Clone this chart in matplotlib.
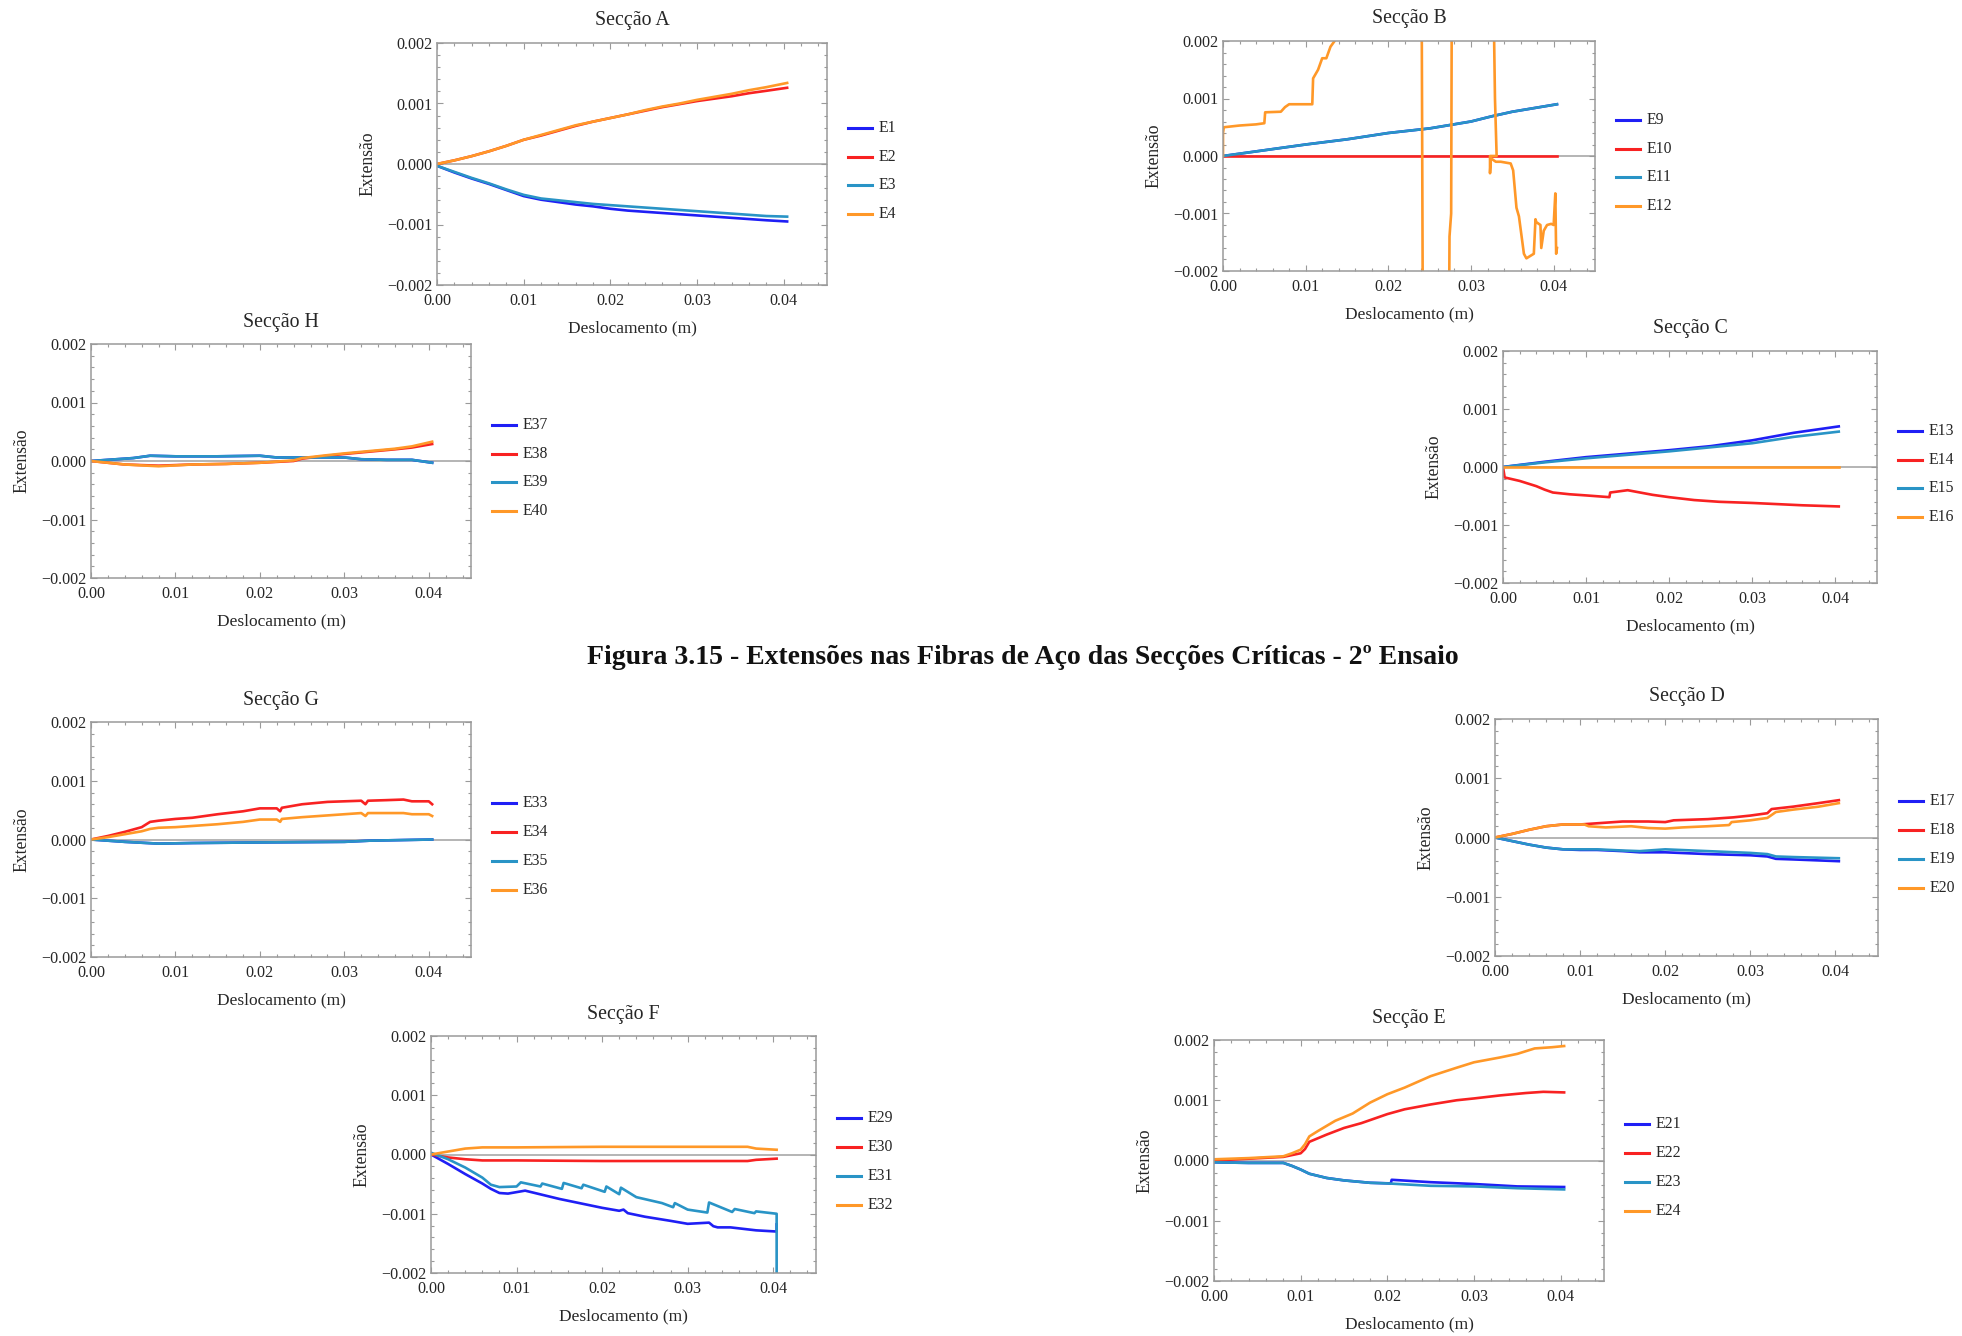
import matplotlib
matplotlib.use('Agg')
import matplotlib.pyplot as plt
from matplotlib.lines import Line2D
from matplotlib.ticker import MultipleLocator, FixedLocator, FixedFormatter

plt.rcParams['font.family'] = ['Liberation Serif', 'DejaVu Serif']

# ---------------- data ----------------
x_ticks = [0.0, 0.01, 0.02, 0.03, 0.04]
x_tick_labels = ['0.00', '0.01', '0.02', '0.03', '0.04']
y_ticks = [-0.002, -0.001, 0.0, 0.001, 0.002]
y_tick_labels = ['\u22120.002', '\u22120.001', '0.000', '0.001', '0.002']

# Secção A
xA = [0, 0.002, 0.004, 0.006, 0.008, 0.010, 0.012, 0.014, 0.016, 0.018, 0.020,
      0.022, 0.024, 0.026, 0.028, 0.030, 0.032, 0.034, 0.036, 0.038, 0.0404]
E1 = [-0.00003, -0.00014, -0.00024, -0.00033, -0.00043, -0.00053, -0.00059, -0.00063, -0.00067, -0.0007, -0.00074,
      -0.00077, -0.00079, -0.00081, -0.00083, -0.00085, -0.00087, -0.00089, -0.00091, -0.00093, -0.00095]
E2 = [0, 0.00006, 0.00013, 0.00021, 0.0003, 0.0004, 0.00047, 0.00055, 0.00063, 0.0007, 0.00076,
      0.00082, 0.00088, 0.00094, 0.00099, 0.00104, 0.00108, 0.00112, 0.00117, 0.00121, 0.00126]
E3 = [-0.00003, -0.00013, -0.00023, -0.00032, -0.00042, -0.00051, -0.00057, -0.0006, -0.00063, -0.00066, -0.00068,
      -0.0007, -0.00072, -0.00074, -0.00076, -0.00078, -0.0008, -0.00082, -0.00084, -0.00086, -0.00087]
E4 = [0, 0.00006, 0.00013, 0.00021, 0.0003, 0.0004, 0.00048, 0.00056, 0.00064, 0.0007, 0.00076,
      0.00082, 0.00089, 0.00095, 0.001, 0.00106, 0.00111, 0.00116, 0.00122, 0.00127, 0.00134]

# Secção B
xB = [0, 0.005, 0.010, 0.015, 0.020, 0.025, 0.030, 0.0325, 0.035, 0.0404]
E9 = [0, 0.0001, 0.0002, 0.00029, 0.0004, 0.00048, 0.0006, 0.00069, 0.00077, 0.0009]
E11 = [0, 0.0001, 0.0002, 0.00029, 0.0004, 0.00048, 0.0006, 0.00069, 0.00077, 0.0009]
xB10 = [0, 0.0404]
E10 = [0, 0]
xB12 = [0, 0, 0.0001, 0.002, 0.004, 0.0050, 0.0051, 0.007, 0.0075, 0.008, 0.0108, 0.0109, 0.0115, 0.012,
        0.0125, 0.013, 0.0135, 0.016, 0.0240, 0.0242, 0.0244, 0.0273, 0.0274, 0.0276, 0.0277, 0.0300,
        0.0326, 0.0329, 0.0331, 0.0323, 0.0323, 0.0324, 0.0330, 0.0336, 0.0348, 0.0351, 0.0355, 0.0358,
        0.0364, 0.0367, 0.0376, 0.0378, 0.0379, 0.0384, 0.0385, 0.0388, 0.0392, 0.0397, 0.0400, 0.0402,
        0.0403, 0.0404]
E12 = [0, 0.0004, 0.0005, 0.00053, 0.00055, 0.00057, 0.00076, 0.00077, 0.00085, 0.0009, 0.0009, 0.00135,
       0.0015, 0.0017, 0.0017, 0.0019, 0.002, 0.003, 0.004, -0.004, -0.004, -0.004, -0.0014, -0.0010,
       0.004, 0.004, 0.004, 0.001, 0.0, 0.0, -0.0003, -0.00004, -0.0001, -0.0001, -0.00013, -0.00025,
       -0.0009, -0.00105, -0.0017, -0.00178, -0.0017, -0.0011, -0.00115, -0.0012, -0.0016, -0.0013,
       -0.0012, -0.00118, -0.0012, -0.00065, -0.0017, -0.0016]

# Secção C
xC = [0, 0.005, 0.010, 0.015, 0.020, 0.025, 0.030, 0.035, 0.0404]
E13 = [0, 0.00009, 0.00017, 0.00023, 0.00029, 0.00036, 0.00046, 0.00059, 0.0007]
E15 = [0, 0.00008, 0.00015, 0.00021, 0.00027, 0.00034, 0.00041, 0.00052, 0.00061]
xC14 = [0, 0.0002, 0.002, 0.004, 0.005, 0.006, 0.008, 0.010, 0.0128, 0.0129, 0.015, 0.018, 0.020,
        0.023, 0.026, 0.030, 0.033, 0.036, 0.0404]
E14 = [0, -0.00018, -0.00024, -0.00033, -0.00039, -0.00044, -0.00047, -0.00049, -0.00052, -0.00044,
       -0.0004, -0.00048, -0.00052, -0.00057, -0.0006, -0.00062, -0.00064, -0.00066, -0.00068]
xC16 = [0, 0.0404]
E16 = [0, 0]

# Secção D
xD18 = [0, 0.002, 0.004, 0.006, 0.008, 0.010, 0.012, 0.015, 0.018, 0.020, 0.021, 0.025, 0.028,
        0.030, 0.032, 0.0325, 0.035, 0.038, 0.0404]
E18 = [0, 0.00006, 0.00013, 0.00019, 0.00022, 0.00022, 0.00024, 0.00027, 0.00027, 0.00026, 0.00029,
       0.00031, 0.00034, 0.00037, 0.00041, 0.00048, 0.00052, 0.00058, 0.00063]
xD20 = [0, 0.002, 0.004, 0.006, 0.008, 0.0105, 0.011, 0.013, 0.016, 0.018, 0.020, 0.022, 0.025,
        0.0275, 0.0278, 0.030, 0.032, 0.033, 0.035, 0.038, 0.0404]
E20 = [0, 0.00006, 0.00013, 0.00019, 0.00022, 0.00022, 0.00019, 0.00017, 0.00019, 0.00016, 0.00015,
       0.00017, 0.00019, 0.00021, 0.00026, 0.00029, 0.00033, 0.00043, 0.00047, 0.00052, 0.00058]
xD17 = [0, 0.002, 0.004, 0.006, 0.008, 0.010, 0.012, 0.015, 0.017, 0.020, 0.025, 0.030, 0.032,
        0.033, 0.035, 0.0404]
E17 = [0, -0.00006, -0.00012, -0.00017, -0.0002, -0.00021, -0.00021, -0.00023, -0.00025, -0.00025,
       -0.00028, -0.0003, -0.00032, -0.00036, -0.00037, -0.0004]
E19 = [0, -0.00006, -0.00012, -0.00017, -0.0002, -0.0002, -0.0002, -0.00022, -0.00023, -0.0002,
       -0.00023, -0.00026, -0.00028, -0.00032, -0.00033, -0.00035]

# Secção E
xE24 = [0, 0.004, 0.008, 0.009, 0.010, 0.0105, 0.011, 0.012, 0.014, 0.016, 0.018, 0.020, 0.022,
        0.025, 0.028, 0.030, 0.033, 0.035, 0.037, 0.039, 0.0404]
E24 = [0.00002, 0.00004, 0.00007, 0.00012, 0.00018, 0.00027, 0.0004, 0.00049, 0.00066, 0.00078,
       0.00096, 0.0011, 0.00121, 0.0014, 0.00154, 0.00163, 0.00171, 0.00177, 0.00186, 0.00188, 0.0019]
xE22 = [0, 0.004, 0.008, 0.010, 0.0105, 0.011, 0.013, 0.015, 0.017, 0.020, 0.022, 0.025, 0.028,
        0.030, 0.033, 0.036, 0.038, 0.0404]
E22 = [0, 0.00003, 0.00006, 0.00012, 0.00019, 0.00031, 0.00043, 0.00054, 0.00062, 0.00077, 0.00085,
       0.00093, 0.001, 0.00103, 0.00108, 0.00112, 0.00114, 0.00113]
xE23 = [0, 0.004, 0.008, 0.009, 0.010, 0.011, 0.013, 0.015, 0.018, 0.020, 0.025, 0.030, 0.035, 0.0404]
E23 = [-0.00003, -0.00004, -0.00004, -0.00009, -0.00015, -0.00022, -0.00029, -0.00033, -0.00037,
       -0.00038, -0.00042, -0.00043, -0.00046, -0.00048]
xE21 = [0, 0.004, 0.008, 0.009, 0.010, 0.011, 0.013, 0.015, 0.018, 0.0204, 0.0205, 0.025, 0.030,
        0.035, 0.0404]
E21 = [-0.00003, -0.00004, -0.00004, -0.00009, -0.00015, -0.00022, -0.00029, -0.00033, -0.00037,
       -0.00038, -0.00032, -0.00036, -0.00039, -0.00043, -0.00044]

# Secção F
xF30 = [0, 0.002, 0.004, 0.006, 0.010, 0.020, 0.030, 0.037, 0.038, 0.0404]
E32 = [0, 0.00005, 0.0001, 0.00012, 0.00012, 0.00013, 0.00013, 0.00013, 0.0001, 0.00008]
E30 = [0, -0.00005, -0.00008, -0.0001, -0.0001, -0.00011, -0.00011, -0.00011, -0.00009, -0.00007]
xF29 = [0, 0.002, 0.004, 0.006, 0.007, 0.008, 0.009, 0.011, 0.013, 0.015, 0.018, 0.020, 0.022,
        0.0225, 0.023, 0.025, 0.028, 0.030, 0.0325, 0.033, 0.0335, 0.035, 0.038, 0.0404, 0.0404]
E29 = [0, -0.00016, -0.00033, -0.00049, -0.00058, -0.00065, -0.00066, -0.00061, -0.00068, -0.00075,
       -0.00084, -0.0009, -0.00095, -0.00093, -0.00099, -0.00105, -0.00112, -0.00117, -0.00115,
       -0.00121, -0.00123, -0.00123, -0.00128, -0.0013, -0.00118]
xF31 = [0, 0.002, 0.004, 0.006, 0.007, 0.008, 0.010, 0.0105, 0.0128, 0.0130, 0.0153, 0.0155, 0.0176,
        0.0178, 0.0203, 0.0205, 0.0220, 0.0222, 0.0240, 0.027, 0.0283, 0.0285, 0.0300, 0.0323, 0.0325,
        0.0352, 0.0355, 0.0378, 0.0380, 0.0404, 0.0404]
E31 = [0.00003, -0.00008, -0.00022, -0.00039, -0.00051, -0.00055, -0.00054, -0.00047, -0.00054,
       -0.00049, -0.00058, -0.00048, -0.00057, -0.00051, -0.00063, -0.00054, -0.00067, -0.00056,
       -0.00072, -0.00082, -0.00089, -0.00082, -0.00093, -0.00098, -0.00081, -0.00097, -0.00092,
       -0.00099, -0.00096, -0.001, -0.0025]

# Secção G
xG34 = [0, 0.002, 0.004, 0.006, 0.007, 0.008, 0.010, 0.012, 0.015, 0.018, 0.020, 0.022, 0.0224,
        0.0226, 0.025, 0.028, 0.030, 0.032, 0.0325, 0.0328, 0.035, 0.037, 0.038, 0.040, 0.0404]
E34 = [0, 0.00006, 0.00013, 0.00021, 0.0003, 0.00032, 0.00035, 0.00037, 0.00043, 0.00048, 0.00053,
       0.00053, 0.00048, 0.00054, 0.0006, 0.00064, 0.00065, 0.00066, 0.0006, 0.00066, 0.00067,
       0.00068, 0.00065, 0.00065, 0.0006]
E36 = [0, 0.00004, 0.00009, 0.00014, 0.00018, 0.0002, 0.00021, 0.00023, 0.00026, 0.0003, 0.00034,
       0.00034, 0.0003, 0.00035, 0.00038, 0.00041, 0.00043, 0.00045, 0.0004, 0.00045, 0.00045,
       0.00045, 0.00043, 0.00043, 0.0004]
xG33 = [0, 0.004, 0.008, 0.012, 0.020, 0.030, 0.033, 0.0404]
E33 = [0, -0.00004, -0.00007, -0.00006, -0.00005, -0.00004, -0.00002, 0.0]
E35 = [0, -0.00004, -0.00007, -0.00006, -0.00005, -0.00004, -0.00002, 0.0]

# Secção H
xH37 = [0, 0.003, 0.005, 0.007, 0.010, 0.015, 0.020, 0.022, 0.025, 0.030, 0.032, 0.035, 0.038, 0.0404]
E37 = [0, 0.00003, 0.00005, 0.00009, 0.00008, 0.00008, 0.00009, 0.00006, 0.00006, 0.00006, 0.00003,
       0.00002, 0.00002, -0.00003]
E39 = [0, 0.00003, 0.00005, 0.00009, 0.00008, 0.00008, 0.00009, 0.00006, 0.00006, 0.00006, 0.00003,
       0.00002, 0.00002, -0.00003]
xH38 = [0, 0.004, 0.008, 0.012, 0.016, 0.020, 0.024, 0.025, 0.028, 0.030, 0.033, 0.036, 0.038, 0.0404]
E38 = [0, -0.00006, -0.00008, -0.00006, -0.00005, -0.00003, 0.0, 0.00004, 0.00009, 0.00012, 0.00016,
       0.0002, 0.00023, 0.00029]
E40 = [0, -0.00006, -0.00009, -0.00006, -0.00005, -0.00003, 0.00001, 0.00005, 0.0001, 0.00013,
       0.00017, 0.00021, 0.00025, 0.00033]

caption = 'Figura 3.15 - Extensões nas Fibras de Aço das Secções Críticas - 2º Ensaio'

# ---------------- style ----------------
BLUE = '#1f1ff5'
RED = '#f82222'
TEAL = '#2994c6'
ORANGE = '#ff9828'
FRAME = '#9a9a9a'
TXT = '#262626'

W, H = 1962, 1336
fig = plt.figure(figsize=(W / 100, H / 100), dpi=100)

panels = [
    # title, (left, top, right, bottom) px, series [(label, x, y, color)]
    ('Secção A', (437, 43, 827, 285),
     [('E1', xA, E1, BLUE), ('E2', xA, E2, RED), ('E3', xA, E3, TEAL), ('E4', xA, E4, ORANGE)]),
    ('Secção B', (1223, 41, 1595, 271),
     [('E9', xB, E9, BLUE), ('E10', xB10, E10, RED), ('E11', xB, E11, TEAL), ('E12', xB12, E12, ORANGE)]),
    ('Secção H', (91, 344, 471, 578),
     [('E37', xH37, E37, BLUE), ('E38', xH38, E38, RED), ('E39', xH37, E39, TEAL), ('E40', xH38, E40, ORANGE)]),
    ('Secção C', (1503, 351, 1877, 583),
     [('E13', xC, E13, BLUE), ('E14', xC14, E14, RED), ('E15', xC, E15, TEAL), ('E16', xC16, E16, ORANGE)]),
    ('Secção G', (91, 722, 471, 957),
     [('E33', xG33, E33, BLUE), ('E34', xG34, E34, RED), ('E35', xG33, E35, TEAL), ('E36', xG34, E36, ORANGE)]),
    ('Secção D', (1495, 719, 1878, 956),
     [('E17', xD17, E17, BLUE), ('E18', xD18, E18, RED), ('E19', xD17, E19, TEAL), ('E20', xD20, E20, ORANGE)]),
    ('Secção F', (431, 1036, 816, 1273),
     [('E29', xF29, E29, BLUE), ('E30', xF30, E30, RED), ('E31', xF31, E31, TEAL), ('E32', xF30, E32, ORANGE)]),
    ('Secção E', (1214, 1040, 1604, 1281),
     [('E21', xE21, E21, BLUE), ('E22', xE22, E22, RED), ('E23', xE23, E23, TEAL), ('E24', xE24, E24, ORANGE)]),
]


def fx(px):
    return px / W


def fy(py):
    return 1 - py / H


for title, (l, t, r, b), series in panels:
    ax = fig.add_axes([fx(l), fy(b), (r - l) / W, (b - t) / H])
    ax.set_xlim(0, 0.045)
    ax.set_ylim(-0.002, 0.002)
    ax.axhline(0, color='#a0a0a0', lw=1.1, zorder=1)
    for lab, xs, ys, col in series:
        ax.plot(xs, ys, color=col, lw=1.9, zorder=2, solid_joinstyle='round')
    ax.xaxis.set_major_locator(FixedLocator(x_ticks))
    ax.xaxis.set_major_formatter(FixedFormatter(x_tick_labels))
    ax.yaxis.set_major_locator(FixedLocator(y_ticks))
    ax.yaxis.set_major_formatter(FixedFormatter(y_tick_labels))
    ax.xaxis.set_minor_locator(MultipleLocator(0.002))
    ax.yaxis.set_minor_locator(MultipleLocator(0.0002))
    ax.tick_params(which='both', direction='in', top=True, right=True, color=FRAME, width=0.8)
    ax.tick_params(which='major', length=4, labelsize=11.6, labelcolor=TXT)
    ax.tick_params(which='minor', length=2)
    ax.tick_params(axis='x', pad=6)
    ax.tick_params(axis='y', pad=3.5)
    for s in ax.spines.values():
        s.set_color(FRAME)
        s.set_linewidth(1.1)
    cx = (l + r) / 2
    cy = (t + b) / 2
    fig.text(fx(cx), fy(t - 22), title, ha='center', va='center', fontsize=14.3, color=TXT)
    fig.text(fx(cx), fy(b + 43), 'Deslocamento (m)', ha='center', va='center', fontsize=12.5, color=TXT)
    fig.text(fx(l - 69), fy(cy), 'Extensão', ha='center', va='center', rotation=90, fontsize=12.7, color=TXT)
    # legend
    for i, (lab, xs, ys, col) in enumerate(series):
        yy = cy + 7 + (i - 1.5) * 28.7
        fig.add_artist(Line2D([fx(r + 21), fx(r + 45)], [fy(yy), fy(yy)], color=col, lw=2.2,
                              transform=fig.transFigure))
        fig.text(fx(r + 52), fy(yy), lab, ha='left', va='center', fontsize=11.3, color=TXT)

fig.text(fx(1023), fy(657), caption, ha='center', va='center', fontsize=20, fontweight='bold', color='#111111')

fig.savefig('out.png', dpi=100, facecolor='white')
